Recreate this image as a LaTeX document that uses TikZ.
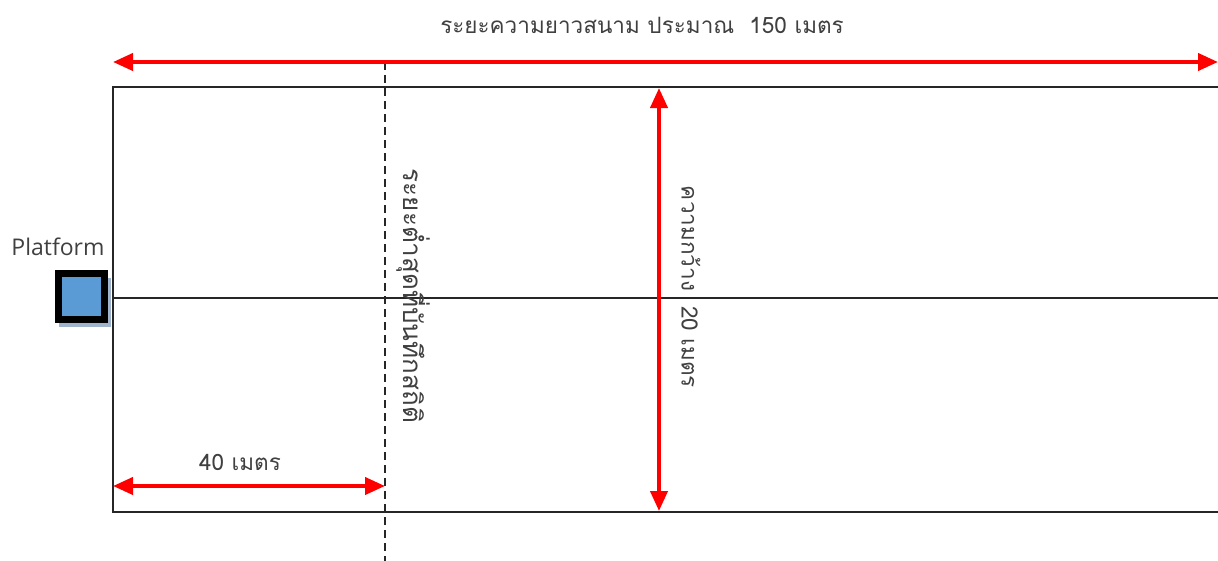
\documentclass[tikz,border=0pt]{standalone}
\usepackage{fontspec}
\setmainfont{Open Sans}
\newfontfamily\thaifont[Script=Thai]{Loma}
\usetikzlibrary{arrows.meta}
\definecolor{platblue}{RGB}{91,155,213}
\definecolor{platshadow}{RGB}{160,180,205}
\tikzset{
  field/.style={line width=2.3pt, black!85},
  dimarrow/.style={line width=4pt, red, {Triangle[length=20pt,width=17pt]}-{Triangle[length=20pt,width=17pt]}},
  dashline/.style={line width=2pt, black!85, dash pattern=on 8pt off 5pt},
  lbl/.style={font=\thaifont\fontsize{22.5}{26}\selectfont, text=black!75, inner sep=0pt},
  plat/.style={draw=black, line width=7pt, fill=platblue, minimum size=46pt, inner sep=0pt},
}
\begin{document}
\begin{tikzpicture}[x=1pt,y=-1pt]
\useasboundingbox (0,0) rectangle (1218,560);
% field outline
\coordinate (tr) at (1240,87);
\coordinate (tl) at (113,87);
\coordinate (bl) at (113,512);
\coordinate (br) at (1240,512);
\coordinate (ml) at (113,298);
\coordinate (mr) at (1240,298);
\draw[field] (tr) -- (tl) -- (bl) -- (br);
\draw[field] (ml) -- (mr);
% dashed minimum line
\coordinate (dtop) at (385,62);
\coordinate (dbot) at (385,565);
\draw[dashline] (dtop) -- (dbot);
% length arrow
\coordinate (la) at (113,62);
\coordinate (lb) at (1218,62);
\draw[dimarrow] (la) -- (lb);
% width arrow
\coordinate (wa) at (659,88);
\coordinate (wb) at (659,511);
\draw[dimarrow] (wa) -- (wb);
% 40 m arrow
\coordinate (fa) at (113,486);
\coordinate (fb) at (385,486);
\draw[dimarrow] (fa) -- (fb);
% platform
\fill[platshadow] (59,278) rectangle (111,327);
\node[plat] (platform) at (81,296) {};
\node[font=\fontsize{23}{26}\selectfont, text=black!75, inner sep=0pt] (platlbl) at (58,247) {Platform};
% labels
\node[lbl] (title) at (642,25) {ระยะความยาวสนาม ประมาณ \ 150 เมตร};
\node[lbl] (forty) at (240,462) {40 เมตร};
\node[lbl, font=\thaifont\fontsize{26}{30}\selectfont, rotate=-90] (minlbl) at (413,296) {ระยะต่ำสุดที่บันทึกสถิติ};
\node[lbl, rotate=-90] (widlbl) at (691,287) {ความกว้าง \ 20 เมตร};
\end{tikzpicture}
\end{document}
